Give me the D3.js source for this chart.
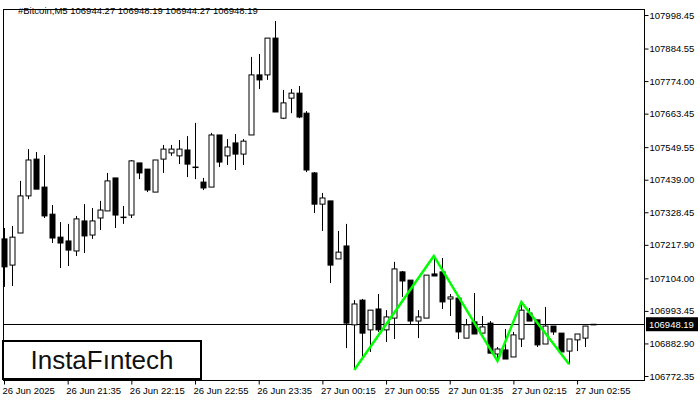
<!DOCTYPE html>
<html><head><meta charset="utf-8">
<script src="https://cdn.jsdelivr.net/npm/d3@7"></script>
<style>body{margin:0;background:#fff}svg{display:block}text{font-family:"Liberation Sans",sans-serif}</style>
</head><body><svg id="c" width="700" height="400"></svg>
<script>
const opens=[107238,107149,107258,107384,107509,107414,107322,107244,107231,107197,107299,107251,107309,107333,107445,107312,107319,107496,107475,107397,107509,107530,107520,107540,107482,107431,107414,107591,107520,107564,107526,107591,107795,107795,107920,107648,107716,107733,107665,107462,107356,107367,107170,107214,106946,107030,106929,107000,106929,106969,107126,107098,106959,106969,107119,107126,107034,107037,106901,106956,106918,106952,106847,106861,106837,106898,106986,106963,106881,106942,106918,106857,106895,106901,106946];
const highs=[107275,107282,107435,107543,107533,107523,107353,107295,107289,107316,107356,107343,107367,107462,107445,107350,107506,107496,107475,107506,107557,107557,107574,107587,107632,107445,107598,107591,107577,107594,107577,107856,107866,107920,107978,107744,107747,107757,107672,107465,107394,107367,107265,107289,107030,107034,106996,107051,106996,107160,107129,107098,106996,107115,107180,107173,107051,107037,106966,107054,106976,106959,106871,106932,106922,107024,107003,106963,107007,106942,106918,106898,106915,106942,106948];
const lows=[107075,107078,107258,107373,107407,107309,107224,107139,107146,107180,107190,107238,107268,107333,107275,107289,107309,107441,107397,107397,107462,107520,107492,107448,107441,107404,107414,107482,107489,107472,107489,107591,107747,107778,107669,107645,107665,107648,107465,107326,107265,107088,107170,106867,106793,106837,106854,106922,106888,106898,107041,106949,106901,106969,107112,107000,106976,106898,106901,106915,106918,106850,106823,106830,106837,106871,106959,106871,106881,106912,106854,106812,106857,106871,106946];
const closes=[107143,107244,107384,107506,107407,107316,107241,107224,107200,107306,107248,107299,107336,107435,107319,107312,107503,107462,107404,107506,107543,107543,107543,107492,107482,107411,107591,107499,107550,107526,107570,107795,107778,107920,107669,107700,107733,107652,107472,107356,107377,107149,107193,106952,107017,106918,106996,106929,106973,107136,107095,106959,106973,107115,107112,107024,107041,106922,106946,106915,106939,106850,106864,106830,106912,106996,106959,106878,106942,106922,106854,106898,106915,106942,106948];
const patternIdx=[44,54,62,65,71];
const patternPrice=[106793,107180,106823,107024,106812];
const yTicks=[107998.45,107884.55,107774.00,107663.45,107549.55,107439.00,107328.45,107217.90,107104.00,106993.45,106882.90,106772.35];
const xTickIdx=[0,8,16,24,32,40,48,56,64,72];
const xTickLabels=["26 Jun 2025","26 Jun 21:35","26 Jun 22:15","26 Jun 22:55","26 Jun 23:35","27 Jun 00:15","27 Jun 00:55","27 Jun 01:35","27 Jun 02:15","27 Jun 02:55"];
const lastPrice=106948.19;
const title="#Bitcoin,M5  106944.27 106948.19 106944.27 106948.19";

const svg=d3.select("#c");
const L=3,R=644,T=9,B=380;
const x=d3.scaleLinear().domain([0,74]).range([4,593]);
const y=d3.scaleLinear().domain([106772.35,107998.45]).range([376,15]);
const data=opens.map((o,i)=>({i,o,h:highs[i],l:lows[i],c:closes[i]}));

svg.append("rect").attr("x",L+0.5).attr("y",T+0.5).attr("width",R-L).attr("height",B-T).attr("fill","none").attr("stroke","#000");
svg.append("line").attr("x1",L).attr("x2",R).attr("y1",Math.round(y(lastPrice))+0.5).attr("y2",Math.round(y(lastPrice))+0.5).attr("stroke","#000");

const g=svg.append("g");
g.selectAll("line.w").data(data).join("line").attr("x1",d=>Math.round(x(d.i))+0.5).attr("x2",d=>Math.round(x(d.i))+0.5)
 .attr("y1",d=>y(d.h)).attr("y2",d=>y(d.l)).attr("stroke","#000");
g.selectAll("rect.b").data(data).join("rect")
 .attr("x",d=>Math.round(x(d.i))-2).attr("width",5)
 .attr("y",d=>y(Math.max(d.o,d.c))).attr("height",d=>Math.max(0.5,Math.abs(y(d.o)-y(d.c))))
 .attr("fill",d=>d.c>=d.o?"#fff":"#000").attr("stroke","#000");

svg.append("path").datum(patternIdx.map((k,j)=>[x(k),y(patternPrice[j])]))
 .attr("d",d3.line()).attr("fill","none").attr("stroke","#00ff00").attr("stroke-width",2.5);

const ya=svg.append("g").attr("transform",`translate(${R+0.5},0)`)
 .call(d3.axisRight(y).tickValues(yTicks).tickSize(4).tickFormat(d=>d.toFixed(2)));
ya.select(".domain").remove();
ya.selectAll("text").attr("font-size",9.5).attr("fill","#000").attr("x",5);
const py=y(lastPrice);
svg.append("rect").attr("x",R+2).attr("y",py-7).attr("width",52).attr("height",14).attr("fill","#000");
svg.append("text").attr("x",R+5).attr("y",py+3.5).attr("fill","#fff").attr("font-size",9.5).text(lastPrice.toFixed(2));

const xa=svg.append("g").attr("transform",`translate(0,${B+0.5})`)
 .call(d3.axisBottom(x).tickValues(xTickIdx).tickSize(4).tickFormat((d,i)=>xTickLabels[i]));
xa.select(".domain").remove();
xa.selectAll("text").attr("font-size",9.5).attr("fill","#000").attr("text-anchor","start").attr("dx",-2).attr("y",7);

svg.append("text").attr("x",18).attr("y",13.5).attr("font-size",9.5).attr("fill","#000").text(title);

svg.append("rect").attr("x",3).attr("y",341).attr("width",198).attr("height",38).attr("fill","#fff").attr("stroke","#000").attr("stroke-width",2);
svg.append("text").attr("x",102).attr("y",369).attr("text-anchor","middle").attr("font-size",26).attr("font-family","Inter, sans-serif").attr("font-weight",400).attr("fill","#111").text("InstaFıntech");
</script></body></html>
